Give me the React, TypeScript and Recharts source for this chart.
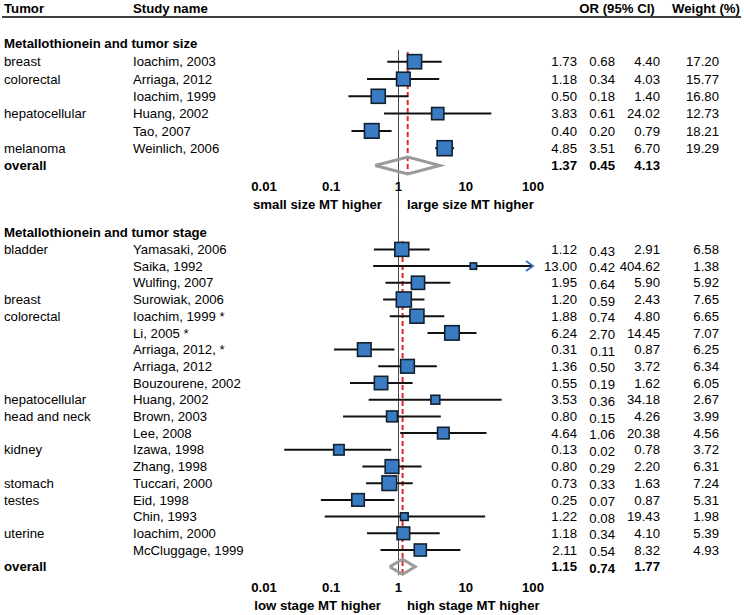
import React from 'react';
import { ScatterChart, Scatter, XAxis, YAxis, ReferenceLine, ReferenceDot } from 'recharts';

const FONT = '"Liberation Sans", Arial, Helvetica, sans-serif';
const FS = 13.2;

// ---- Section 1: Metallothionein and tumor size ----
const sizeTumors = ['breast', 'colorectal', '', 'hepatocellular', '', 'melanoma'];
const sizeStudies = ['Ioachim, 2003', 'Arriaga, 2012', 'Ioachim, 1999', 'Huang, 2002', 'Tao, 2007', 'Weinlich, 2006'];
const sizeOR = [1.73, 1.18, 0.5, 3.83, 0.4, 4.85];
const sizeLower = [0.68, 0.34, 0.18, 0.61, 0.2, 3.51];
const sizeUpper = [4.4, 4.03, 1.4, 24.02, 0.79, 6.7];
const sizeWeight = [17.2, 15.77, 16.8, 12.73, 18.21, 19.29];
const sizeOverall = [1.37, 0.45, 4.13];

// ---- Section 2: Metallothionein and tumor stage ----
const stageTumors = ['bladder', '', '', 'breast', 'colorectal', '', '', '', '', 'hepatocellular', 'head and neck', '', 'kidney', '', 'stomach', 'testes', '', 'uterine', ''];
const stageStudies = ['Yamasaki, 2006', 'Saika, 1992', 'Wulfing, 2007', 'Surowiak, 2006', 'Ioachim, 1999 *', 'Li, 2005 *', 'Arriaga, 2012, *', 'Arriaga, 2012', 'Bouzourene, 2002', 'Huang, 2002', 'Brown, 2003', 'Lee, 2008', 'Izawa, 1998', 'Zhang, 1998', 'Tuccari, 2000', 'Eid, 1998', 'Chin, 1993', 'Ioachim, 2000', 'McCluggage, 1999'];
const stageOR = [1.12, 13.0, 1.95, 1.2, 1.88, 6.24, 0.31, 1.36, 0.55, 3.53, 0.8, 4.64, 0.13, 0.8, 0.73, 0.25, 1.22, 1.18, 2.11];
const stageLower = [0.43, 0.42, 0.64, 0.59, 0.74, 2.7, 0.11, 0.5, 0.19, 0.36, 0.15, 1.06, 0.02, 0.29, 0.33, 0.07, 0.08, 0.34, 0.54];
const stageUpper = [2.91, 404.62, 5.9, 2.43, 4.8, 14.45, 0.87, 3.72, 1.62, 34.18, 4.26, 20.38, 0.78, 2.2, 1.63, 0.87, 19.43, 4.1, 8.32];
const stageWeight = [6.58, 1.38, 5.92, 7.65, 6.65, 7.07, 6.25, 6.34, 6.05, 2.67, 3.99, 4.56, 3.72, 6.31, 7.24, 5.31, 1.98, 5.39, 4.93];
const stageOverall = [1.15, 0.74, 1.77];

const axisTicks = [0.01, 0.1, 1, 10, 100];
const AXIS_MIN = 0.01;
const AXIS_MAX = 100;

type Row = {
  x: number;
  y: number;
  tumor: string;
  study: string;
  or: number;
  lo: number;
  hi: number;
  weight: number | null;
  overall: boolean;
  maxW: number;
};

function buildRows(tumors: string[], studies: string[], or: number[], lo: number[], hi: number[], w: number[], overall: number[]): Row[] {
  const maxW = Math.max(...w);
  const rows: Row[] = studies.map((s, i) => ({
    x: or[i], y: i, tumor: tumors[i], study: s, or: or[i], lo: lo[i], hi: hi[i], weight: w[i], overall: false, maxW,
  }));
  rows.push({ x: overall[0], y: studies.length, tumor: 'overall', study: '', or: overall[0], lo: overall[1], hi: overall[2], weight: null, overall: true, maxW });
  return rows;
}

const EmptyShape = () => <g />;

function makeRowShape(loDy: number) {
  return (props: any) => {
    const { cx, cy, payload } = props;
    const r: Row = payload;
    const txt: React.CSSProperties = { fontFamily: FONT, fontSize: FS, fill: '#000', fontWeight: r.overall ? 'bold' : 'normal' };
    const side = r.weight != null ? 15 * Math.sqrt(r.weight / r.maxW) : 0;
    return (
      <g>
        {!r.overall && (
          <rect x={cx - side / 2} y={cy - side / 2} width={side} height={side} fill="#3a7cc3" stroke="#13202f" strokeWidth={1.6} />
        )}
        <text x={4} y={cy} dy="0.35em" style={txt}>{r.tumor}</text>
        <text x={133} y={cy} dy="0.35em" style={txt}>{r.study}</text>
        <text x={577} y={cy} dy="0.35em" textAnchor="end" style={txt}>{r.or.toFixed(2)}</text>
        <text x={615} y={cy + loDy} dy="0.35em" textAnchor="end" style={txt}>{r.lo.toFixed(2)}</text>
        <text x={660} y={cy} dy="0.35em" textAnchor="end" style={txt}>{r.hi.toFixed(2)}</text>
        {r.weight != null && (
          <text x={719} y={cy} dy="0.35em" textAnchor="end" style={txt}>{r.weight.toFixed(2)}</text>
        )}
      </g>
    );
  };
}

const ArrowShape = (props: any) => {
  const { cx, cy } = props;
  return <path d={`M${cx - 7},${cy - 5} L${cx},${cy} L${cx - 7},${cy + 5}`} fill="none" stroke="#2f6db3" strokeWidth={1.8} />;
};

type SectionProps = {
  rows: Row[];
  top: number;
  height: number;
  plotBottom: number;
  rowTop: number;
  rowStep: number;
  diamondHalf: number;
  nullRange: [number, number];
  redRange: [number, number];
  loDy: number;
};

function ForestSection({ rows, top, height, plotBottom, rowTop, rowStep, diamondHalf, nullRange, redRange, loDy }: SectionProps) {
  const d0 = -rowTop / rowStep;
  const d1 = d0 + plotBottom / rowStep;
  const studies = rows.filter((r) => !r.overall);
  const ov = rows.find((r) => r.overall)!;
  const diamond = [
    { x: ov.lo, y: ov.y },
    { x: ov.or, y: ov.y - diamondHalf },
    { x: ov.hi, y: ov.y },
    { x: ov.or, y: ov.y + diamondHalf },
    { x: ov.lo, y: ov.y },
  ];
  const arrows = studies.filter((r) => r.hi > AXIS_MAX);
  const RowShape = makeRowShape(loDy);
  return (
    <div style={{ position: 'absolute', left: 0, top, width: 744, height }}>
      <ScatterChart width={744} height={height} margin={{ top: 0, right: 211, bottom: 0, left: 264 }}>
        <XAxis
          type="number"
          dataKey="x"
          scale="log"
          domain={[AXIS_MIN, AXIS_MAX]}
          ticks={axisTicks}
          interval={0}
          tickFormatter={(v: number) => String(v)}
          axisLine={false}
          tickLine={false}
          tickSize={0}
          tickMargin={6.5}
          height={height - plotBottom}
          tick={{ fill: '#000', fontSize: FS, fontWeight: 'bold', fontFamily: FONT }}
        />
        <YAxis type="number" dataKey="y" domain={[d0, d1]} reversed hide />
        <ReferenceLine
          segment={[{ x: 1, y: nullRange[0] }, { x: 1, y: nullRange[1] }]}
          stroke="#4a4a4a"
          strokeWidth={1}
          ifOverflow="visible"
        />
        <ReferenceLine
          segment={[{ x: ov.or, y: redRange[0] }, { x: ov.or, y: redRange[1] }]}
          stroke="#e2262c"
          strokeWidth={2}
          strokeDasharray="5 3"
          ifOverflow="visible"
        />
        {studies.map((r, i) => (
          <Scatter
            key={'w' + i}
            data={[{ x: r.lo, y: r.y }, { x: Math.min(r.hi, AXIS_MAX), y: r.y }]}
            line={{ stroke: '#111', strokeWidth: 2 }}
            shape={EmptyShape}
            isAnimationActive={false}
            legendType="none"
          />
        ))}
        <Scatter data={rows} shape={RowShape} isAnimationActive={false} legendType="none" />
        <Scatter
          data={diamond}
          line={{ stroke: '#9a9a9a', strokeWidth: 3 }}
          shape={EmptyShape}
          isAnimationActive={false}
          legendType="none"
        />
        {arrows.map((r, i) => (
          <ReferenceDot key={'a' + i} x={AXIS_MAX} y={r.y} r={0} shape={ArrowShape} ifOverflow="visible" />
        ))}
      </ScatterChart>
    </div>
  );
}

const sizeRows = buildRows(sizeTumors, sizeStudies, sizeOR, sizeLower, sizeUpper, sizeWeight, sizeOverall);
const stageRows = buildRows(stageTumors, stageStudies, stageOR, stageLower, stageUpper, stageWeight, stageOverall);

const bold: React.CSSProperties = { fontFamily: FONT, fontSize: FS, fontWeight: 'bold', fill: '#000' };

export default function App() {
  return (
    <div style={{ position: 'absolute', left: 0, top: 0, width: 744, height: 615, background: '#fff', overflow: 'hidden' }}>
      <ForestSection
        rows={sizeRows}
        top={0}
        height={215}
        plotBottom={175}
        rowTop={61.7}
        rowStep={17.3}
        diamondHalf={0.49}
        nullRange={[-0.68, 8.86]}
        redRange={[-0.56, 6.49]}
        loDy={0}
      />
      <ForestSection
        rows={stageRows}
        top={215}
        height={400}
        plotBottom={361}
        rowTop={34.4}
        rowStep={16.7}
        diamondHalf={0.45}
        nullRange={[-2.06, 19.5]}
        redRange={[-0.5, 19.38]}
        loDy={1.5}
      />
      <svg width={744} height={615} style={{ position: 'absolute', left: 0, top: 0, pointerEvents: 'none' }}>
        <text x={4} y={8.5} dy="0.35em" style={bold}>Tumor</text>
        <text x={133} y={8.5} dy="0.35em" style={bold}>Study name</text>
        <text x={617} y={8.5} dy="0.35em" textAnchor="middle" style={bold}>OR (95% CI)</text>
        <text x={706} y={8.5} dy="0.35em" textAnchor="middle" style={bold}>Weight (%)</text>
        <line x1={2} x2={741} y1={17} y2={17} stroke="#000" strokeWidth={1.5} />
        <text x={4} y={43} dy="0.35em" style={bold}>Metallothionein and tumor size</text>
        <text x={4} y={232.5} dy="0.35em" style={bold}>Metallothionein and tumor stage</text>
        <text x={382} y={204} dy="0.35em" textAnchor="end" style={bold}>small size MT higher</text>
        <text x={407} y={204} dy="0.35em" textAnchor="start" style={bold}>large size MT higher</text>
        <text x={381} y={605} dy="0.35em" textAnchor="end" style={bold}>low stage MT higher</text>
        <text x={407} y={605} dy="0.35em" textAnchor="start" style={bold}>high stage MT higher</text>
      </svg>
    </div>
  );
}
